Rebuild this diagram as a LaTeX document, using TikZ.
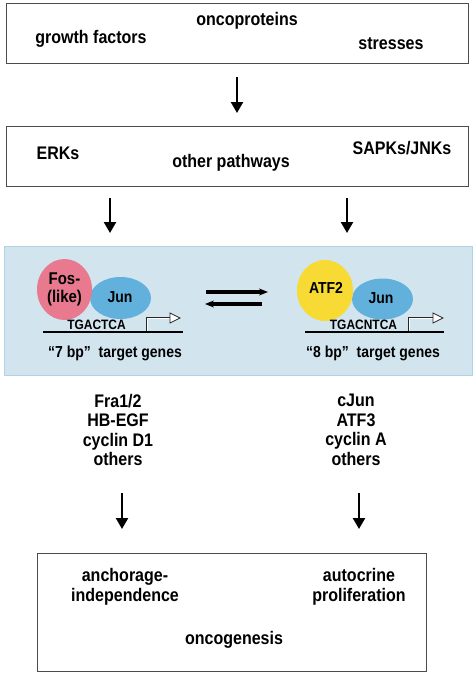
\documentclass[tikz,border=0pt]{standalone}
\usepackage{fontspec}
\setmainfont{Liberation Sans}[FakeStretch=0.88]
\usetikzlibrary{arrows.meta, positioning, shapes.geometric}
\definecolor{fospink}{HTML}{E8798F}
\definecolor{junblue}{HTML}{62B1DC}
\definecolor{atfyellow}{HTML}{F8DA34}
\definecolor{cellfill}{HTML}{D2E5EF}
\definecolor{cellline}{HTML}{AFD2E4}

\begin{document}
\begin{tikzpicture}[x=1pt, y=-1pt, font=\bfseries\fontsize{18.2}{19.5}\selectfont,
  box/.style={draw=black!70, line width=1pt, inner sep=0},
  lbl/.style={inner sep=0, align=center},
  small/.style={inner sep=0, align=center, font=\bfseries\fontsize{15.9}{17}\selectfont},
  seq/.style={inner sep=0, font=\bfseries\fontsize{13.6}{14}\selectfont},
  prot/.style={ellipse, inner sep=0},
  bigarrow/.style={-{Triangle[length=11pt, width=12pt]}, line width=2.4pt},
  eqarrow/.style={-{Stealth[length=9pt, width=7pt]}, line width=3.6pt},
  tss/.style={draw=black!85, line width=0.9pt, double=white, double distance=1pt},
  tsshead/.style={draw=black!85, fill=white, line width=0.8pt},
  dna/.style={line width=1.8pt}]

\useasboundingbox (0,0) rectangle (475,677);

% ---- stimuli
\node[box, minimum width=462, minimum height=60] (stim) at (237,34) {};
\node[lbl] (onco) at (247,21) {oncoproteins};
\node[lbl] (gf) at (91,39) {growth factors};
\node[lbl] (stress) at (391,44) {stresses};

\coordinate (s1) at (237,77);
\coordinate (e1) at (237,113);
\draw[bigarrow] (s1) -- (e1);

% ---- kinases
\node[box, minimum width=462, minimum height=60] (kin) at (237,156) {};
\node[lbl] (erk) at (58,153) {ERKs};
\node[lbl] (sapk) at (402,148) {SAPKs/JNKs};
\node[lbl] (other) at (231,163) {other pathways};

\coordinate (s2) at (110,198);
\coordinate (e2) at (110,233);
\coordinate (s3) at (347,198);
\coordinate (e3) at (347,233);
\draw[bigarrow] (s2) -- (e2);
\draw[bigarrow] (s3) -- (e3);

% ============================================== AP-1 dimers
\node[draw=cellline, fill=cellfill, line width=1pt, minimum width=468, minimum height=129] (cell) at (238,310.5) {};

% left dimer
\node[prot, fill=junblue, minimum width=61, minimum height=42] (junl) at (120.5,298) {};
\node[prot, fill=fospink, minimum width=55, minimum height=61] (fos) at (64.5,289.5) {};
\node[small, font=\bfseries\fontsize{17}{17.5}\selectfont] (fostxt) at (fos) {Fos-\\(like)};
\node[small] (junltxt) at (120,297) {Jun};
\coordinate (dnal1) at (43,332);
\coordinate (dnal2) at (183,332);
\draw[dna] (dnal1) -- (dnal2);
\node[seq] (tre) at (96.5,325) {TGACTCA};
\coordinate (tssl) at (147,331);
\coordinate (tssl2) at (147,318);
\coordinate (tssl3) at (170,318);
\draw[tss] (tssl) -- (tssl2) -- (tssl3);
\draw[tsshead] (tssl3) ++(0,-5) -- ++(10,5) -- ++(-10,5) -- cycle;
\node[small] (seven) at (115,353) {“7 bp”\ \ target genes};

% equilibrium
\coordinate (eq1) at (206,292);
\coordinate (eq2) at (268,292);
\coordinate (eq3) at (262,304);
\coordinate (eq4) at (205,304);
\draw[eqarrow] (eq1) -- (eq2);
\draw[eqarrow] (eq3) -- (eq4);

% right dimer
\node[prot, fill=junblue, minimum width=61, minimum height=41] (junr) at (382.5,299) {};
\node[prot, fill=atfyellow, minimum width=56, minimum height=61] (atf) at (325,290.5) {};
\node[small] (atftxt) at (326,288) {ATF2};
\node[small] (junrtxt) at (381,298) {Jun};
\coordinate (dnar1) at (305,332);
\coordinate (dnar2) at (444,332);
\draw[dna] (dnar1) -- (dnar2);
\node[seq] (cre) at (363.5,325) {TGACNTCA};
\coordinate (tssr) at (409,331);
\coordinate (tssr2) at (409,318);
\coordinate (tssr3) at (433,318);
\draw[tss] (tssr) -- (tssr2) -- (tssr3);
\draw[tsshead] (tssr3) ++(0,-5) -- ++(10,5) -- ++(-10,5) -- cycle;
\node[small] (eight) at (373,353) {“8 bp”\ \ target genes};

% ---- target genes
\node[lbl] (tgl) at (118,430) {Fra1/2\\HB-EGF\\cyclin D1\\others};
\node[lbl] (tgr) at (356,430) {cJun\\ATF3\\cyclin A\\others};

\coordinate (s4) at (122,493);
\coordinate (e4) at (122,529);
\coordinate (s5) at (359,493);
\coordinate (e5) at (359,529);
\draw[bigarrow] (s4) -- (e4);
\draw[bigarrow] (s5) -- (e5);

% ---- outcome
\node[box, minimum width=389, minimum height=118] (out) at (231.5,612) {};
\node[lbl] (anch) at (125,587) {anchorage-\\independence};
\node[lbl] (auto) at (359,587) {autocrine\\proliferation};
\node[lbl] (oncog) at (234,640) {oncogenesis};

\end{tikzpicture}
\end{document}
